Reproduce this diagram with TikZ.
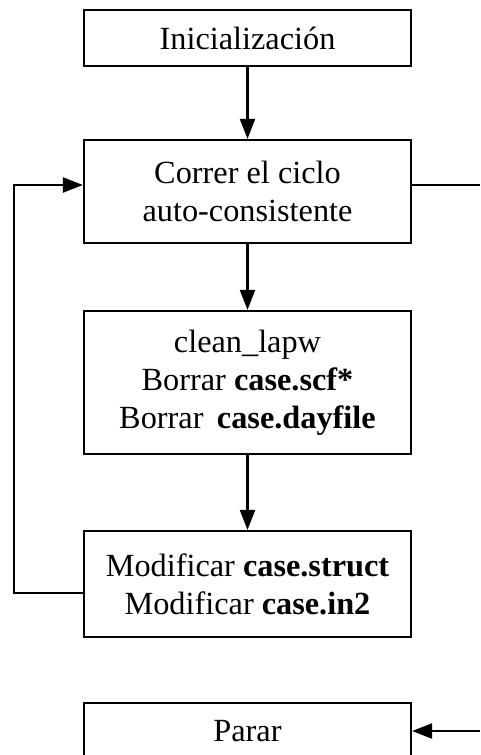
\documentclass[tikz,border=0pt]{standalone}
\usepackage{fontspec}
\setmainfont{Liberation Serif}
\usetikzlibrary{arrows.meta}
\begin{document}
\begin{tikzpicture}[x=1pt,y=-1pt,
  box/.style={draw,line width=2.2pt,rectangle,minimum width=327pt,inner sep=0pt,align=center,font=\fontsize{32.3}{38}\selectfont},
  arr/.style={line width=2.2pt,-{Triangle[length=20pt,width=15pt]}},
  ln/.style={line width=2.2pt}]
\useasboundingbox (0,0) rectangle (480,755);
\node[box,minimum height=56pt] (b1) at (247.5,38) {Inicialización};
\node[box,minimum height=103pt] (b2) at (247.5,191.5) {Correr el ciclo\\auto-consistente};
\node[box,minimum height=143pt] (b3) at (247.5,382.5) {clean\_lapw\\Borrar \textbf{case.scf*}\\Borrar\, \textbf{case.dayfile}};
\node[box,minimum height=106pt] (b4) at (247.5,584) {Modificar \textbf{case.struct}\\Modificar \textbf{case.in2}};
\node[box,minimum height=56pt] (b5) at (247.5,731) {Parar};
\coordinate (r1) at (480,185);
\coordinate (r2) at (480,731);
\coordinate (l1) at (14,593);
\draw[arr] (b1) -- (b2);
\draw[arr] (b2) -- (b3);
\draw[arr] (b3) -- (b4);
\draw[arr] ([yshift=-9pt]b4.west) -- (l1) |- ([yshift=6.5pt]b2.west);
\draw[ln] ([yshift=6.5pt]b2.east) -- (r1);
\draw[arr] (r2) -- (b5.east);
\end{tikzpicture}
\end{document}
